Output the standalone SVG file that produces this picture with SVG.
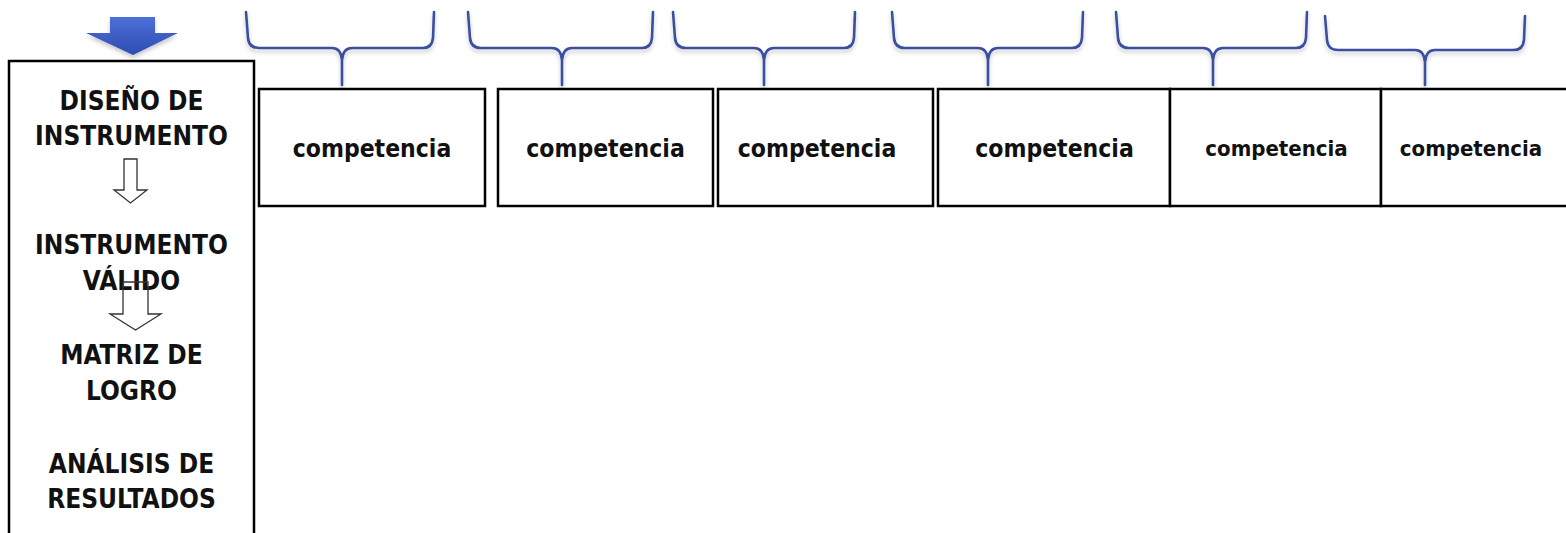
<svg xmlns="http://www.w3.org/2000/svg" width="1566" height="533" viewBox="0 0 1566 533">
<defs>
<linearGradient id="blueGrad" x1="0" y1="0" x2="0" y2="1">
<stop offset="0" stop-color="#4e70d8"/>
<stop offset="1" stop-color="#2c4cb2"/>
</linearGradient>
<filter id="shadow" x="-10%" y="-20%" width="120%" height="160%">
<feDropShadow dx="0" dy="3" stdDeviation="2" flood-color="#000" flood-opacity="0.22"/>
</filter>
<style>
.box{fill:#fff;stroke:#000;stroke-width:2.5}
.side{fill:#fff;stroke:#000;stroke-width:2.5}
.lbl{font-family:"DejaVu Sans Condensed","DejaVu Sans",sans-serif;font-weight:bold;fill:#111;text-anchor:middle}
.big{font-size:26px}
.comp{font-size:24.5px}
.comps{font-size:22px}
.brace{fill:none;stroke:#3a4fa0;stroke-width:2.6;stroke-linejoin:round;stroke-linecap:round}
.hollow{fill:none;stroke:#333;stroke-width:1.3}
</style>
</defs>

<g id="blue-arrow">
<polygon points="110,17 155,17 155,33 178,33 133,55 86,33 110,33" fill="url(#blueGrad)" filter="url(#shadow)"/>
</g>

<g id="process-box">
<rect class="side" x="9" y="61" width="245" height="490"/>
<text class="lbl big" x="131.5" y="110">DISEÑO DE</text>
<text class="lbl big" x="131.5" y="145">INSTRUMENTO</text>
<text class="lbl big" x="131.5" y="254">INSTRUMENTO</text>
<text class="lbl big" x="131.5" y="290">VÁLIDO</text>
<text class="lbl big" x="131.5" y="364">MATRIZ DE</text>
<text class="lbl big" x="131.5" y="400">LOGRO</text>
<text class="lbl big" x="131.5" y="473">ANÁLISIS DE</text>
<text class="lbl big" x="131.5" y="508">RESULTADOS</text>
</g>

<g id="connectors">
<polygon class="hollow" points="124,159 137,159 137,190 147,190 130.5,203 114,190 124,190"/>
<polygon class="hollow" points="123,282 148,282 148,314 161,314 135.5,330 110,314 123,314"/>
</g>

<g id="braces" filter="url(#shadow)">
<path class="brace" d="M246,12 L248,38 Q249,48 259,48 L332,48 Q341,48 342,60 L342,85 M342,60 Q343,48 352,48 L423,48 Q432,48 433,38 L434,12"/>
<path class="brace" d="M468,12 L470,38 Q471,48 481,48 L552,48 Q561,48 562,60 L562,85 M562,60 Q563,48 572,48 L642,48 Q651,48 652,38 L653,12"/>
<path class="brace" d="M673,12 L675,38 Q676,48 686,48 L754,48 Q763,48 764,60 L764,85 M764,60 Q765,48 774,48 L844,48 Q853,48 854,38 L855,12"/>
<path class="brace" d="M892,12 L894,38 Q895,48 905,48 L978,48 Q987,48 988,60 L988,85 M988,60 Q989,48 998,48 L1072,48 Q1081,48 1082,38 L1083,12"/>
<path class="brace" d="M1116,12 L1118,38 Q1119,48 1129,48 L1203,48 Q1212,48 1213,60 L1213,85 M1213,60 Q1214,48 1223,48 L1296,48 Q1305,48 1306,38 L1307,12"/>
<path class="brace" d="M1325,16 L1327,40 Q1328,50 1338,50 L1415,50 Q1424,50 1425,62 L1425,85 M1425,62 Q1426,50 1435,50 L1514,50 Q1523,50 1524,40 L1525,16"/>
</g>

<g id="comp1"><rect class="box" x="259" y="89" width="226" height="117"/><text class="lbl comp" x="372" y="157">competencia</text></g>
<g id="comp2"><rect class="box" x="498" y="89" width="215" height="117"/><text class="lbl comp" x="605.5" y="157">competencia</text></g>
<g id="comp3"><rect class="box" x="718" y="89" width="215" height="117"/><text class="lbl comp" x="817" y="157">competencia</text></g>
<g id="comp4"><rect class="box" x="938" y="89" width="232" height="117"/><text class="lbl comp" x="1054.5" y="157">competencia</text></g>
<g id="comp5"><rect class="box" x="1170" y="89" width="211" height="117"/><text class="lbl comps" x="1276.5" y="156">competencia</text></g>
<g id="comp6"><rect class="box" x="1381" y="89" width="200" height="117"/><text class="lbl comps" x="1471" y="156">competencia</text></g>
</svg>
